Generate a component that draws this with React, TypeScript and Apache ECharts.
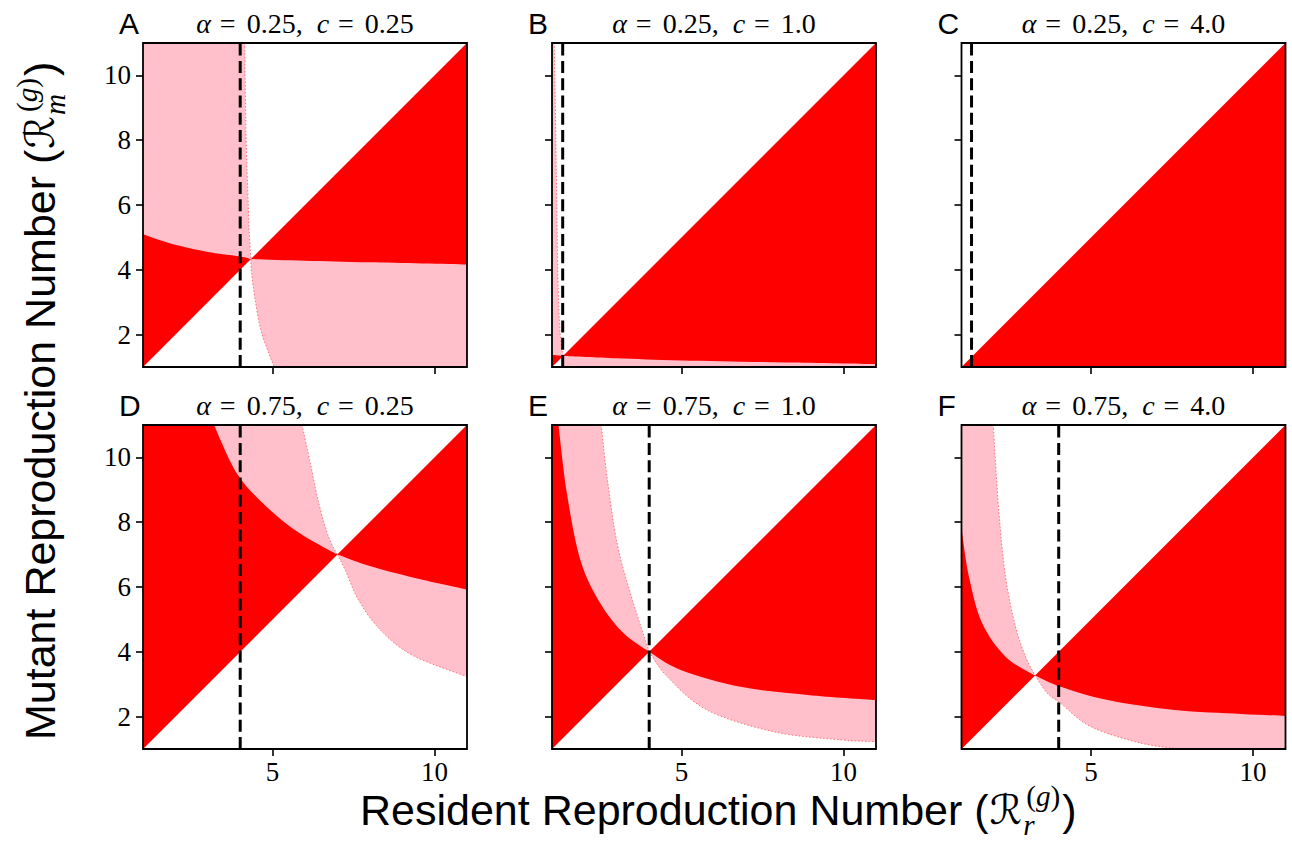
import React, { useEffect, useRef } from 'react';
import * as echarts from 'echarts';

// ---------- data ----------
const panelLetters = ['A', 'B', 'C', 'D', 'E', 'F'];
const alphaLabels = ['0.25', '0.25', '0.25', '0.75', '0.75', '0.75'];
const cLabels = ['0.25', '1.0', '4.0', '0.25', '1.0', '4.0'];
const thresholdR = [4.0, 1.33, 1.31, 4.0, 4.0, 4.0];
const crossR = [4.33, 1.34, 1.0, 7.0, 4.0, 3.27];
const axisMin = 1;
const axisMax = 11;
const yTicks = [2, 4, 6, 8, 10];
const xTicks = [5, 10];

// Panel A (alpha 0.25, c 0.25)
const innerLeftA = [[1, 5.1], [2, 4.77], [3, 4.55], [4, 4.41], [4.33, 4.33]];
const outerLeftA = [[4.14, 11], [4.18, 8.2], [4.25, 6.0], [4.28, 5.13], [4.33, 4.33]];
const innerRightA = [[4.33, 4.33], [6, 4.28], [8, 4.23], [11, 4.16]];
const outerRightA = [[4.33, 4.33], [4.35, 3.9], [4.46, 3.08], [4.66, 2.05], [5.05, 1]];
// Panel B (alpha 0.25, c 1.0)
const innerLeftB = [[1, 1.38], [1.34, 1.34]];
const outerLeftB = [[1.07, 11], [1.12, 8.0], [1.18, 4.0], [1.25, 2.06], [1.34, 1.34]];
const innerRightB = [[1.34, 1.34], [3, 1.27], [5, 1.2], [8.2, 1.14], [11, 1.09]];
const outerRightB = [[1.34, 1.34], [1.36, 1]];
// Panel C (alpha 0.25, c 4.0)
const innerLeftC: number[][] = [];
const outerLeftC: number[][] = [];
const innerRightC = [[1, 1], [11, 1]];
const outerRightC: number[][] = [];
// Panel D (alpha 0.75, c 0.25)
const innerLeftD = [[3.19, 11], [3.91, 9.49], [4.83, 8.46], [5.86, 7.64], [7, 7]];
const outerLeftD = [[5.91, 11], [6.17, 9.8], [6.43, 8.57], [6.73, 7.54], [7, 7]];
const innerRightD = [[7, 7], [7.92, 6.67], [9.46, 6.26], [11, 5.92]];
const outerRightD = [[7, 7], [7.25, 6.5], [7.65, 5.6], [8.3, 4.7], [9.3, 3.9], [11, 3.23]];
// Panel E (alpha 0.75, c 1.0)
const innerLeftE = [[1.2, 11], [1.46, 8.89], [1.88, 6.82], [2.49, 5.5], [3.21, 4.57], [4, 4]];
const outerLeftE = [[2.52, 11], [2.7, 9.4], [3.01, 7.35], [3.42, 5.81], [4, 4]];
const innerRightE = [[4, 4], [4.97, 3.44], [6.82, 2.92], [8.89, 2.67], [11, 2.51]];
const outerRightE = [[4, 4], [4.56, 3.23], [5.79, 2.2], [7.85, 1.53], [9.92, 1.28], [11, 1.23]];
// Panel F (alpha 0.75, c 4.0)
const innerLeftF = [[1, 7.81], [1.23, 6.32], [1.64, 4.88], [2.36, 3.85], [3.27, 3.27]];
const outerLeftF = [[1.98, 11], [2.15, 8.38], [2.36, 6.32], [2.67, 4.77], [2.98, 3.85], [3.27, 3.27]];
const innerRightF = [[3.27, 3.27], [4.06, 2.92], [5.51, 2.51], [7.57, 2.2], [9.63, 2.08], [11, 2.02]];
const outerRightF = [[3.27, 3.27], [3.65, 2.72], [4.06, 2.41], [4.99, 1.69], [6.54, 1.18], [7.77, 1]];

const innerLeft = [innerLeftA, innerLeftB, innerLeftC, innerLeftD, innerLeftE, innerLeftF];
const outerLeft = [outerLeftA, outerLeftB, outerLeftC, outerLeftD, outerLeftE, outerLeftF];
const innerRight = [innerRightA, innerRightB, innerRightC, innerRightD, innerRightE, innerRightF];
const outerRight = [outerRightA, outerRightB, outerRightC, outerRightD, outerRightE, outerRightF];

// ---------- layout / style ----------
const RED = '#ff0000';
const PINK = '#ffc0cb';
const GRID_LEFTS = [143, 552, 961.5];
const GRID_TOPS = [43, 425];
const GRID_SIZE = 324;
const SERIF = '"Liberation Serif", "DejaVu Serif", serif';
const SANS = '"Liberation Sans", Arial, sans-serif';
const CAL = '"DejaVu Sans", "DejaVu Serif", sans-serif';

type Part = { pts: number[][]; smooth: boolean };

function measure(text: string, font: string): number {
  const c = document.createElement('canvas').getContext('2d') as CanvasRenderingContext2D;
  c.font = font;
  return c.measureText(text).width;
}

// Build an SVG path through parts (straight edges or Catmull-Rom smoothed curves), in pixel space.
function buildPath(parts: Part[], api: any, close: boolean): string {
  let d = '';
  let started = false;
  const f = (n: number) => n.toFixed(2);
  parts.forEach((part) => {
    const px = part.pts.map((p) => api.coord(p));
    if (!px.length) return;
    if (!started) {
      d += `M${f(px[0][0])},${f(px[0][1])}`;
      started = true;
    } else {
      d += `L${f(px[0][0])},${f(px[0][1])}`;
    }
    if (!part.smooth || px.length < 3) {
      for (let k = 1; k < px.length; k++) d += `L${f(px[k][0])},${f(px[k][1])}`;
    } else {
      for (let k = 0; k < px.length - 1; k++) {
        const p0 = px[Math.max(0, k - 1)];
        const p1 = px[k];
        const p2 = px[k + 1];
        const p3 = px[Math.min(px.length - 1, k + 2)];
        const c1x = p1[0] + (p2[0] - p0[0]) / 6;
        const c1y = p1[1] + (p2[1] - p0[1]) / 6;
        const c2x = p2[0] - (p3[0] - p1[0]) / 6;
        const c2y = p2[1] - (p3[1] - p1[1]) / 6;
        d += `C${f(c1x)},${f(c1y)},${f(c2x)},${f(c2y)},${f(p2[0])},${f(p2[1])}`;
      }
    }
  });
  if (close) d += 'Z';
  return d;
}

function regionSeries(gi: number, parts: Part[], style: any, z: number, close = true) {
  const data = parts.reduce((acc: number[][], p) => acc.concat(p.pts), []);
  return {
    type: 'custom',
    xAxisIndex: gi,
    yAxisIndex: gi,
    data,
    encode: { x: 0, y: 1 },
    silent: true,
    clip: true,
    z,
    renderItem: (params: any, api: any) => {
      if (params.dataIndex !== 0) return null;
      return {
        type: 'path',
        shape: { pathData: buildPath(parts, api, close) },
        style,
      };
    },
  };
}

function frameSeries(gi: number) {
  const corners = [[axisMin, axisMax], [axisMax, axisMin]];
  return {
    type: 'custom',
    xAxisIndex: gi,
    yAxisIndex: gi,
    data: corners,
    encode: { x: 0, y: 1 },
    silent: true,
    z: 20,
    renderItem: (params: any, api: any) => {
      if (params.dataIndex !== 0) return null;
      const a = api.coord(corners[0]);
      const b = api.coord(corners[1]);
      return {
        type: 'rect',
        shape: { x: a[0], y: a[1], width: b[0] - a[0], height: b[1] - a[1] },
        style: { fill: 'none', stroke: '#000', lineWidth: 1.8 },
      };
    },
  };
}

function axisLabelGroup(
  mainText: string,
  sub: string,
  x: number,
  y: number,
  rotation: number,
  F: number
) {
  const sansFont = `${F}px ${SANS}`;
  const calSize = F * 0.95;
  const calFont = `italic ${calSize}px ${CAL}`;
  const scr = F * 0.68;
  const scrSerif = `${scr}px ${SERIF}`;
  const scrItalic = `italic ${scr}px ${SERIF}`;
  const w1 = measure(mainText, sansFont);
  const wR = measure('ℛ', calFont);
  const wSup = measure('()', scrSerif) + measure('g', scrItalic);
  const wSub = measure(sub, scrItalic);
  const base = 0.3465 * F;
  const xR = w1 + 1;
  const xScript = xR + wR + 1;
  const xClose = xScript + Math.max(wSup + 3, wSub) + 2;
  const supCenter = base - 0.42 * F - 0.236 * F;
  const subCenter = base + 0.24 * F - 0.236 * F;
  const common = {
    verticalAlign: 'middle',
    textVerticalAlign: 'middle',
    align: 'left',
    textAlign: 'left',
    fill: '#000',
  };
  return {
    type: 'group',
    x,
    y,
    rotation,
    silent: true,
    children: [
      { type: 'text', x: 0, y: 0, style: { ...common, text: mainText, font: sansFont, lineHeight: F * 0.8 } },
      { type: 'text', x: xR, y: 0, style: { ...common, text: 'ℛ', font: calFont, lineHeight: F * 0.8 } },
      {
        type: 'text',
        x: xScript + 3,
        y: supCenter,
        style: {
          ...common,
          text: '{u|(}{i|g}{u|)}',
          font: scrSerif,
          rich: {
            u: { fontFamily: SERIF, fontSize: scr, fill: '#000', lineHeight: scr * 0.9 },
            i: { fontFamily: SERIF, fontSize: scr, fontStyle: 'italic', fill: '#000', lineHeight: scr * 0.9 },
          },
        },
      },
      { type: 'text', x: xScript, y: subCenter, style: { ...common, text: sub, font: scrItalic, lineHeight: scr * 0.8 } },
      { type: 'text', x: xClose, y: 0, style: { ...common, text: ')', font: sansFont, lineHeight: F * 0.8 } },
    ],
  };
}

function buildOption() {
  const grids: any[] = [];
  const xAxes: any[] = [];
  const yAxes: any[] = [];
  const series: any[] = [];
  const graphics: any[] = [];

  for (let i = 0; i < 6; i++) {
    const row = Math.floor(i / 3);
    const col = i % 3;
    const left = GRID_LEFTS[col];
    const top = GRID_TOPS[row];
    grids.push({ left, top, width: GRID_SIZE, height: GRID_SIZE, show: false, containLabel: false });
    const tickStyle = { color: '#000', width: 1.6 };
    xAxes.push({
      gridIndex: i,
      type: 'value',
      min: axisMin,
      max: axisMax,
      axisLine: { show: false },
      splitLine: { show: false },
      axisTick: { show: true, length: 7, lineStyle: tickStyle, customValues: xTicks },
      axisLabel: {
        show: row === 1,
        customValues: xTicks,
        color: '#000',
        fontFamily: SERIF,
        fontSize: 27,
        lineHeight: 24,
        margin: 11,
      },
    });
    yAxes.push({
      gridIndex: i,
      type: 'value',
      min: axisMin,
      max: axisMax,
      axisLine: { show: false },
      splitLine: { show: false },
      axisTick: { show: true, length: 7, lineStyle: tickStyle, customValues: yTicks },
      axisLabel: {
        show: col === 0,
        customValues: yTicks,
        color: '#000',
        fontFamily: SERIF,
        fontSize: 27,
        margin: 12,
      },
    });

    const p = crossR[i];
    const P = [p, p];
    const TL = [axisMin, axisMax];
    const BL = [axisMin, axisMin];
    const TR = [axisMax, axisMax];
    const BR = [axisMax, axisMin];

    // left side: pink band up to the outer curve, red up to the inner curve on top
    if (outerLeft[i].length) {
      series.push(
        regionSeries(i, [{ pts: [BL, TL], smooth: false }, { pts: outerLeft[i], smooth: true }], { fill: PINK }, 2)
      );
    }
    if (innerLeft[i].length) {
      const il = innerLeft[i];
      const start = il[0][1] >= axisMax ? [BL, TL] : [BL];
      series.push(
        regionSeries(i, [{ pts: start, smooth: false }, { pts: il, smooth: true }], { fill: RED }, 3)
      );
    }
    // right side
    if (outerRight[i].length) {
      const orr = outerRight[i];
      const last = orr[orr.length - 1];
      const start = last[1] <= axisMin ? [P, TR, BR] : [P, TR];
      series.push(
        regionSeries(i, [{ pts: start, smooth: false }, { pts: orr.slice().reverse(), smooth: true }], { fill: PINK }, 2)
      );
    }
    if (innerRight[i].length) {
      series.push(
        regionSeries(
          i,
          [{ pts: [P, TR], smooth: false }, { pts: innerRight[i].slice().reverse(), smooth: true }],
          { fill: RED },
          3
        )
      );
    }
    // faint red speckle along the pink / white boundaries
    [outerLeft[i], outerRight[i]].forEach((c) => {
      if (c.length > 2) {
        series.push(
          regionSeries(
            i,
            [{ pts: c, smooth: true }],
            { fill: 'none', stroke: RED, lineWidth: 0.9, opacity: 0.55, lineDash: [1.5, 2] },
            4,
            false
          )
        );
      }
    });
    // threshold dashed line
    series.push({
      type: 'line',
      xAxisIndex: i,
      yAxisIndex: i,
      data: [[thresholdR[i], axisMin], [thresholdR[i], axisMax]],
      symbol: 'none',
      silent: true,
      z: 6,
      lineStyle: { color: '#000', width: 3, type: [12, 5.3] },
    });
    series.push(frameSeries(i));

    // panel letter
    const cy = top - 19.5;
    graphics.push({
      type: 'text',
      x: left - 24,
      y: cy,
      silent: true,
      style: {
        text: panelLetters[i],
        font: `30px ${SANS}`,
        fill: '#000',
        align: 'left',
        textAlign: 'left',
        verticalAlign: 'middle',
        textVerticalAlign: 'middle',
      },
    });
    // panel title
    const fs = 28;
    graphics.push({
      type: 'text',
      x: left + GRID_SIZE / 2,
      y: cy,
      silent: true,
      style: {
        text: `{ia|α}{eq|=}{n|${alphaLabels[i]},}{ic|c}{eq|=}{n|${cLabels[i]}}`,
        font: `${fs}px ${SERIF}`,
        fill: '#000',
        align: 'center',
        textAlign: 'center',
        verticalAlign: 'middle',
        textVerticalAlign: 'middle',
        rich: {
          ia: { fontFamily: SERIF, fontSize: fs, fontStyle: 'italic', fill: '#000' },
          ic: { fontFamily: SERIF, fontSize: fs, fontStyle: 'italic', fill: '#000', padding: [0, 0, 0, 14] },
          eq: { fontFamily: SERIF, fontSize: fs, fill: '#000', padding: [0, 11, 0, 9] },
          n: { fontFamily: SERIF, fontSize: fs, fill: '#000' },
        },
      },
    });
  }

  graphics.push(axisLabelGroup('Resident Reproduction Number (', 'r', 360, 809.5, 0, 43));
  graphics.push(axisLabelGroup('Mutant Reproduction Number (', 'm', 40, 740, Math.PI / 2, 43));

  return {
    animation: false,
    backgroundColor: '#fff',
    grid: grids,
    xAxis: xAxes,
    yAxis: yAxes,
    series,
    graphic: graphics,
  };
}

export default function App() {
  const ref = useRef<HTMLDivElement>(null);
  useEffect(() => {
    if (!ref.current) return;
    const chart = echarts.init(ref.current, undefined, { renderer: 'svg' });
    chart.setOption(buildOption() as any);
    return () => chart.dispose();
  }, []);
  return (
    <div
      ref={ref}
      style={{ position: 'absolute', left: 0, top: 0, width: 1292, height: 847, background: '#fff' }}
    />
  );
}
